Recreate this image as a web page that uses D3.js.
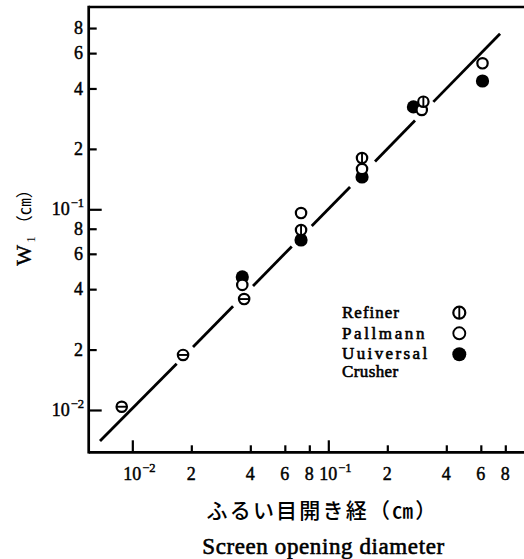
<!DOCTYPE html>
<html>
<head>
<meta charset="utf-8">
<script src="https://cdn.jsdelivr.net/npm/d3@7/dist/d3.min.js"></script>
<style>
  html, body { margin: 0; padding: 0; background: #fff; }
  svg { display: block; }
</style>
</head>
<body>
<svg id="chart" width="524" height="559"></svg>
<script>
// Screen opening diameter d (cm) vs. W1 (cm), log–log
const refinerPts   = [[0.00883, 0.01038], [0.01815, 0.0188], [0.0372, 0.0357], [0.0726, 0.0788], [0.1486, 0.180], [0.3055, 0.3436]];
const pallmannPts  = [[0.0364, 0.0420], [0.0726, 0.0958], [0.1486, 0.1588], [0.2998, 0.3126], [0.612, 0.534]];
const universalPts = [[0.0364, 0.0460], [0.0726, 0.0703], [0.1486, 0.1449], [0.2718, 0.3237], [0.612, 0.4357]];

// fitted line W1 ≈ d, drawn in pieces that stop short of the markers
const fitSegments = [
  [[0.00684, 0.0070], [0.01684, 0.0170]],
  [[0.0204, 0.0206], [0.03265, 0.0329]],
  [[0.04128, 0.0415], [0.0651, 0.0653]],
  [[0.0823, 0.0825], [0.1291, 0.1292]],
  [[0.1731, 0.1731], [0.2769, 0.2767]],
  [[0.3435, 0.3430], [0.752, 0.750]]
];

const xTicks = [0.01, 0.02, 0.04, 0.06, 0.08, 0.1, 0.2, 0.4, 0.6, 0.8];
const xTickLabels = ["10^-2", "2", "4", "6", "8", "10^-1", "2", "4", "6", "8"];
const yTicks = [0.01, 0.02, 0.04, 0.06, 0.08, 0.1, 0.2, 0.4, 0.6, 0.8];
const yTickLabels = ["10^-2", "2", "4", "6", "8", "10^-1", "2", "4", "6", "8"];
const majorTicks = [0.01, 0.1];

const legendNames = ["Refiner", "Pallmann", "Uuiversal", "Crusher"];

const serif = "'Liberation Serif', 'Times New Roman', serif";
const cjk = "'Noto Sans CJK JP', sans-serif";

const svg = d3.select("#chart");

const x = d3.scaleLog().domain([0.00599, 0.9965]).range([88.7, 524]);
const y = d3.scaleLog().domain([0.006154, 1.0185]).range([452.3, 7]);

const xl = x.range()[0], xr = x.range()[1];
const yb = y.range()[0], yt = y.range()[1];

// ticks (inward): minor and major lengths
const minorX = xTicks.filter(v => !majorTicks.includes(v));
const minorY = yTicks.filter(v => !majorTicks.includes(v));

const axB1 = svg.append("g").attr("transform", `translate(0,${yb})`)
  .call(d3.axisBottom(x).tickValues(minorX).tickSize(-7).tickSizeOuter(0).tickFormat(""));
const axB2 = svg.append("g").attr("transform", `translate(0,${yb})`)
  .call(d3.axisBottom(x).tickValues(majorTicks).tickSize(-12).tickSizeOuter(0).tickFormat(""));
const axL1 = svg.append("g").attr("transform", `translate(${xl},0)`)
  .call(d3.axisLeft(y).tickValues(minorY).tickSize(-8).tickSizeOuter(0).tickFormat(""));
const axL2 = svg.append("g").attr("transform", `translate(${xl},0)`)
  .call(d3.axisLeft(y).tickValues(majorTicks).tickSize(-13).tickSizeOuter(0).tickFormat(""));
[axB1, axB2, axL1, axL2].forEach(g => {
  g.select(".domain").remove();
  g.selectAll(".tick line").attr("stroke", "#000").attr("stroke-width", 2.2);
});

// frame: left, bottom, top
const frame = svg.append("g").attr("stroke", "#000").attr("stroke-width", 2.7).attr("fill", "none");
frame.append("line").attr("x1", xl).attr("x2", xl).attr("y1", yt - 1.3).attr("y2", yb + 1.3);
frame.append("line").attr("x1", xl).attr("x2", xr).attr("y1", yb).attr("y2", yb);
frame.append("line").attr("x1", xl).attr("x2", xr).attr("y1", yt).attr("y2", yt);

// tick labels
function splitPow(s) {
  const i = s.indexOf("^");
  return i < 0 ? null : { base: s.slice(0, i), exp: s.slice(i + 1).replace("-", "\u2212") };
}

const inkText = g => g.attr("fill", "#000").attr("stroke", "#000").attr("stroke-width", 0.45);

const xLab = svg.append("g").attr("font-family", serif).call(inkText);
xTicks.forEach((v, i) => {
  const lbl = xTickLabels[i];
  const p = splitPow(lbl);
  const cx = x(v);
  if (!p) {
    xLab.append("text").attr("x", cx).attr("y", 480).attr("text-anchor", "middle")
      .attr("font-size", 18).text(lbl);
  } else {
    const t = xLab.append("text").attr("x", cx).attr("y", 480).attr("text-anchor", "middle")
      .attr("font-size", 18).text(p.base);
    const bb = t.node().getBBox();
    xLab.append("text").attr("x", bb.x + bb.width + 1).attr("y", 472)
      .attr("font-size", 12.5).text(p.exp);
  }
});

const yLab = svg.append("g").attr("font-family", serif).call(inkText);
yTicks.forEach((v, i) => {
  const lbl = yTickLabels[i];
  const p = splitPow(lbl);
  const cy = y(v);
  if (!p) {
    yLab.append("text").attr("x", 83).attr("y", cy).attr("dy", "0.34em").attr("text-anchor", "end")
      .attr("font-size", 18).text(lbl);
  } else {
    const s = yLab.append("text").attr("x", 84).attr("y", cy - 2).attr("text-anchor", "end")
      .attr("font-size", 12.5).text(p.exp);
    const bb = s.node().getBBox();
    yLab.append("text").attr("x", bb.x - 1).attr("y", cy).attr("dy", "0.34em").attr("text-anchor", "end")
      .attr("font-size", 18).text(p.base);
  }
});

// fitted line
const line = d3.line().x(p => x(p[0])).y(p => y(p[1]));
svg.append("g").selectAll("path").data(fitSegments).join("path")
  .attr("d", line).attr("fill", "none").attr("stroke", "#000").attr("stroke-width", 2.8);

// markers
const marks = svg.append("g");
marks.selectAll("circle.univ").data(universalPts).join("circle").attr("class", "univ")
  .attr("cx", p => x(p[0])).attr("cy", p => y(p[1])).attr("r", 6.6).attr("fill", "#000");
marks.selectAll("circle.pall").data(pallmannPts).join("circle").attr("class", "pall")
  .attr("cx", p => x(p[0])).attr("cy", p => y(p[1])).attr("r", 5.2)
  .attr("fill", "#fff").attr("stroke", "#000").attr("stroke-width", 2.2);

function refinerMark(g, cx, cy, r, vertical) {
  g.append("circle").attr("cx", cx).attr("cy", cy).attr("r", r)
    .attr("fill", "#fff").attr("stroke", "#000").attr("stroke-width", 2.2);
  if (vertical) {
    g.append("line").attr("x1", cx).attr("x2", cx).attr("y1", cy - r).attr("y2", cy + r)
      .attr("stroke", "#000").attr("stroke-width", 1.9);
  } else {
    g.append("line").attr("x1", cx - r).attr("x2", cx + r).attr("y1", cy).attr("y2", cy)
      .attr("stroke", "#000").attr("stroke-width", 1.9);
  }
}
refinerPts.forEach(p => refinerMark(marks, x(p[0]), y(p[1]), 5.2, p[0] > 0.05));

// legend
const lg = svg.append("g").attr("font-family", serif).attr("font-size", 17);
const lgX = 342, lgRows = [318.3, 339.3, 359.3, 377.3], lgSpacing = [1, 2.6, 2.4, 0.4];
legendNames.forEach((n, i) => {
  lg.append("text").attr("x", lgX).attr("y", lgRows[i]).attr("letter-spacing", lgSpacing[i])
    .call(inkText).attr("stroke-width", 0.6).text(n);
});
const symX = 459.3;
refinerMark(lg, symX, 312.7, 6, true);
lg.append("circle").attr("cx", symX).attr("cy", 333.3).attr("r", 6)
  .attr("fill", "#fff").attr("stroke", "#000").attr("stroke-width", 1.9);
lg.append("circle").attr("cx", symX).attr("cy", 354.3).attr("r", 7).attr("fill", "#000");

// axis titles
svg.append("text").attr("x", 322.5).attr("y", 518).attr("text-anchor", "middle")
  .attr("font-family", cjk).attr("font-size", 21).attr("font-weight", 500).attr("letter-spacing", 2.2)
  .attr("fill", "#000").text("ふるい目開き経（㎝）");
svg.append("text").attr("x", 323.5).attr("y", 553.5).attr("text-anchor", "middle")
  .attr("font-family", serif).attr("font-size", 23).attr("letter-spacing", 0.6)
  .call(inkText).attr("stroke-width", 0.6).text("Screen opening diameter");

const yt1 = svg.append("text").attr("transform", "translate(31,223.5) rotate(-90)")
  .attr("text-anchor", "middle").attr("fill", "#000");
yt1.append("tspan").attr("font-family", serif).attr("font-size", 22)
  .attr("stroke", "#000").attr("stroke-width", 0.4).text("W");
yt1.append("tspan").attr("font-family", serif).attr("font-size", 13).attr("dy", 4).attr("dx", 2).text("1");
yt1.append("tspan").attr("font-family", cjk).attr("font-size", 17).attr("dy", -4).attr("dx", 4).text("（㎝）");
</script>
</body>
</html>
